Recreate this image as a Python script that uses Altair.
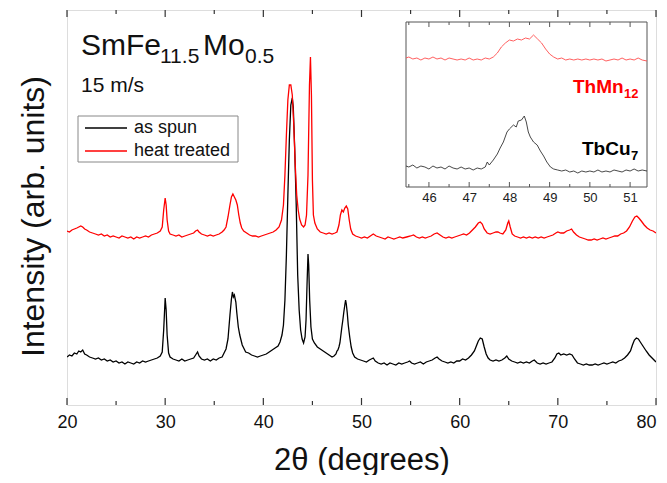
import altair as alt
import pandas as pd

# ---------------- data ----------------
series_names = ["as spun", "heat treated"]
series_colors = ["#000000", "#ff0000"]

as_spun_x = [20.0, 20.25, 20.5, 20.75, 21.0, 21.2, 21.4, 21.6, 21.8, 22.0, 22.3, 22.6, 22.9, 23.2, 23.5, 23.8,
             24.1, 24.4, 24.7, 25.0, 25.3, 25.6, 25.9, 26.2, 26.5, 26.8, 27.1, 27.4, 27.7, 28.0, 28.3, 28.6,
             28.9, 29.2, 29.5, 29.7, 29.85, 30.0, 30.1, 30.2, 30.35, 30.5, 30.8, 31.1, 31.4, 31.7, 32.0, 32.3,
             32.6, 32.9, 33.1, 33.3, 33.45, 33.7, 34.0, 34.3, 34.6, 34.9, 35.2, 35.5, 35.8, 36.0, 36.2, 36.4,
             36.6, 36.75, 36.85, 36.95, 37.05, 37.2, 37.3, 37.45, 37.6, 37.7, 37.85, 38.0, 38.2, 38.5, 38.8,
             39.1, 39.4, 39.7, 40.0, 40.3, 40.6, 40.9, 41.2, 41.5, 41.7, 41.9, 42.05, 42.2, 42.35, 42.5, 42.65,
             42.8, 42.95, 43.05, 43.2, 43.35, 43.5, 43.65, 43.8, 43.95, 44.1, 44.25, 44.35, 44.45, 44.55, 44.62,
             44.72, 44.85, 45.0, 45.2, 45.5, 45.8, 46.1, 46.4, 46.7, 47.0, 47.2, 47.4, 47.5, 47.6, 47.7, 47.8,
             47.9, 48.0, 48.1, 48.2, 48.3, 48.38, 48.45, 48.55, 48.65, 48.8, 48.95, 49.1, 49.3, 49.6, 49.9,
             50.2, 50.5, 50.8, 51.0, 51.2, 51.4, 51.7, 52.0, 52.3, 52.6, 52.9, 53.2, 53.5, 53.8, 54.1, 54.4,
             54.7, 54.9, 55.1, 55.4, 55.7, 56.0, 56.3, 56.6, 56.9, 57.2, 57.5, 57.7, 57.9, 58.2, 58.5, 58.8,
             59.1, 59.4, 59.7, 60.0, 60.3, 60.6, 60.9, 61.2, 61.5, 61.7, 61.9, 62.1, 62.3, 62.5, 62.7, 62.9,
             63.1, 63.4, 63.7, 64.0, 64.3, 64.6, 64.8, 65.0, 65.3, 65.6, 65.9, 66.2, 66.5, 66.8, 67.1, 67.4,
             67.6, 67.9, 68.2, 68.5, 68.8, 69.1, 69.4, 69.7, 69.9, 70.1, 70.3, 70.6, 70.9, 71.2, 71.45, 71.7,
             72.0, 72.3, 72.6, 72.9, 73.2, 73.5, 73.8, 74.1, 74.4, 74.7, 75.0, 75.3, 75.6, 75.9, 76.2, 76.5,
             76.8, 77.1, 77.4, 77.6, 77.8, 78.0, 78.2, 78.4, 78.6, 78.8, 79.0, 79.3, 79.6, 80.0]
as_spun_y = [48, 50, 49, 52, 51, 54, 53, 55, 51, 50, 48, 47, 46, 47, 45, 46,
             44, 45, 43, 44, 42, 43, 41, 43, 42, 41, 43, 42, 44, 43, 44, 45,
             46, 47, 49, 53, 75, 107, 95, 70, 52, 48, 46, 45, 44, 46, 44, 45,
             46, 47, 50, 53, 49, 46, 45, 46, 44, 46, 45, 47, 48, 52, 56, 66,
             90, 106, 113, 108, 110, 103, 92, 78, 70, 66, 60, 57, 53, 52, 50,
             49, 48, 49, 50, 51, 53, 55, 57, 59, 63, 70, 80, 105, 150, 210, 265,
             300, 307, 298, 255, 200, 130, 95, 75, 66, 62, 68, 85, 120, 151, 140,
             105, 78, 66, 62, 58, 56, 54, 52, 50, 48, 49, 51, 54, 55, 58, 62,
             70, 78, 85, 93, 100, 105, 101, 92, 80, 68, 58, 52, 48, 46, 45,
             44, 43, 45, 46, 47, 44, 42, 41, 42, 40, 42, 41, 40, 42, 41, 42,
             43, 44, 42, 41, 42, 43, 41, 43, 44, 45, 47, 48, 46, 44, 43, 42,
             43, 42, 44, 44, 46, 45, 47, 50, 54, 59, 64, 67, 66, 58, 51, 47,
             45, 44, 45, 44, 45, 47, 49, 46, 44, 43, 42, 43, 42, 43, 42, 44,
             45, 42, 41, 42, 41, 42, 43, 47, 51, 52, 50, 51, 50, 51, 50, 46,
             42, 41, 40, 41, 40, 40, 41, 40, 41, 42, 41, 42, 43, 42, 44, 45,
             47, 50, 54, 60, 65, 67, 66, 63, 60, 57, 54, 50, 47, 43]

heat_x = [20.0, 20.25, 20.5, 20.75, 21.0, 21.2, 21.4, 21.6, 21.8, 22.0, 22.3, 22.6, 22.9, 23.2, 23.5, 23.8,
          24.1, 24.4, 24.7, 25.0, 25.3, 25.6, 25.9, 26.2, 26.5, 26.8, 27.1, 27.4, 27.7, 28.0, 28.3, 28.6,
          28.9, 29.2, 29.5, 29.7, 29.85, 30.0, 30.1, 30.2, 30.35, 30.5, 30.8, 31.1, 31.4, 31.7, 32.0, 32.3,
          32.6, 32.9, 33.1, 33.3, 33.45, 33.7, 34.0, 34.3, 34.6, 34.9, 35.2, 35.5, 35.8, 36.0, 36.2, 36.4,
          36.6, 36.75, 36.9, 37.05, 37.2, 37.35, 37.5, 37.65, 37.8, 38.0, 38.3, 38.6, 38.9, 39.2, 39.5,
          39.8, 40.1, 40.4, 40.7, 41.0, 41.3, 41.6, 41.85, 42.05, 42.2, 42.35, 42.5, 42.65, 42.8, 42.95,
          43.1, 43.25, 43.4, 43.55, 43.7, 43.9, 44.1, 44.25, 44.4, 44.55, 44.7, 44.8, 44.9, 45.0, 45.1,
          45.25, 45.5, 45.8, 46.1, 46.4, 46.7, 47.0, 47.3, 47.5, 47.7, 47.85, 48.0, 48.15, 48.3, 48.45,
          48.6, 48.75, 48.9, 49.1, 49.4, 49.7, 50.0, 50.3, 50.6, 50.9, 51.2, 51.5, 51.8, 52.1, 52.4, 52.7,
          53.0, 53.3, 53.6, 53.9, 54.2, 54.6, 55.0, 55.3, 55.6, 55.9, 56.2, 56.5, 56.8, 57.1, 57.4, 57.7,
          58.0, 58.3, 58.6, 58.9, 59.2, 59.5, 59.8, 60.1, 60.4, 60.7, 61.0, 61.3, 61.6, 61.9, 62.1, 62.3,
          62.5, 62.8, 63.1, 63.4, 63.7, 63.9, 64.1, 64.4, 64.7, 64.9, 65.0, 65.15, 65.35, 65.6, 65.9, 66.2,
          66.5, 66.8, 67.1, 67.4, 67.7, 68.0, 68.3, 68.6, 68.9, 69.2, 69.5, 69.8, 70.0, 70.3, 70.6, 70.9,
          71.2, 71.4, 71.6, 71.9, 72.2, 72.5, 72.8, 73.1, 73.4, 73.7, 74.0, 74.3, 74.6, 74.9, 75.2, 75.5,
          75.8, 76.1, 76.4, 76.7, 77.0, 77.3, 77.6, 77.85, 78.05, 78.25, 78.5, 78.8, 79.1, 79.4, 79.7, 80.0]
heat_y = [174, 173, 175, 176, 177, 178, 179, 178, 176, 175, 173, 172, 171, 170, 171, 169,
          170, 168, 169, 168, 167, 169, 168, 167, 168, 166, 168, 167, 168, 169, 168, 170,
          171, 172, 174, 178, 195, 207, 200, 185, 174, 171, 170, 169, 170, 168, 169, 170,
          171, 172, 174, 175, 173, 171, 170, 169, 170, 169, 170, 171, 173, 175, 178, 188,
          200, 208, 211, 208, 205, 200, 190, 182, 177, 174, 172, 170, 169, 169, 168,
          169, 170, 171, 172, 173, 175, 178, 185, 200, 230, 270, 305, 320, 320, 310,
          280, 240, 210, 195, 186, 180, 178, 180, 190, 230, 320, 348, 310, 225, 190,
          182, 176, 173, 172, 171, 172, 171, 172, 173, 180, 190, 195, 193, 197, 199,
          196, 185, 176, 171, 169, 168, 167, 168, 167, 169, 171, 169, 168, 167, 166, 168,
          167, 166, 167, 168, 167, 168, 169, 170, 168, 167, 168, 167, 168, 169, 171, 172,
          170, 168, 167, 168, 167, 168, 169, 170, 171, 170, 172, 175, 178, 182, 183, 181,
          176, 172, 171, 172, 173, 173, 172, 171, 175, 182, 184, 178, 171, 169, 168, 167,
          168, 167, 168, 167, 168, 167, 168, 167, 168, 169, 170, 172, 173, 172, 172, 174,
          175, 176, 173, 170, 168, 167, 166, 165, 165, 166, 165, 166, 167, 166, 167, 168,
          169, 169, 171, 172, 174, 178, 184, 188, 189, 187, 184, 180, 177, 175, 174, 172]

# inset (zoom 45.4 - 51.4 degrees)
inset_x = [45.43, 45.5, 45.6, 45.7, 45.8, 45.9, 46.0, 46.1, 46.2, 46.3, 46.4, 46.5, 46.6, 46.7, 46.8, 46.9,
           47.0, 47.1, 47.2, 47.3, 47.4, 47.5, 47.6, 47.7, 47.8, 47.9, 48.0, 48.1, 48.2, 48.3, 48.4, 48.5,
           48.6, 48.7, 48.8, 48.9, 49.0, 49.1, 49.2, 49.3, 49.4, 49.5, 49.6, 49.7, 49.8, 49.9, 50.0, 50.1,
           50.2, 50.3, 50.4, 50.5, 50.6, 50.7, 50.8, 50.9, 51.0, 51.1, 51.2, 51.3, 51.42]
inset_red_y = [129, 130, 128, 129, 127, 129, 128, 130, 128, 129, 127, 129, 128, 127, 128, 127,
               129, 127, 128, 127, 129, 128, 130, 134, 140, 144, 147, 146, 148, 147, 149, 148,
               152, 148, 144, 138, 133, 130, 128, 129, 127, 128, 127, 128, 127, 128, 127, 128,
               127, 128, 126, 127, 128, 127, 129, 127, 128, 127, 129, 127, 126]
inset_black_x = [45.43, 45.5, 45.6, 45.7, 45.8, 45.9, 46.0, 46.1, 46.2, 46.3, 46.4, 46.5, 46.6, 46.7, 46.8,
                 46.9, 47.0, 47.1, 47.2, 47.3, 47.4, 47.45, 47.5, 47.6, 47.7, 47.77, 47.85, 47.94, 48.0,
                 48.1, 48.17, 48.22, 48.3, 48.37, 48.42, 48.47, 48.52, 48.6, 48.69, 48.77, 48.85, 48.93,
                 49.02, 49.1, 49.2, 49.3, 49.4, 49.5, 49.6, 49.7, 49.8, 49.9, 50.0, 50.1, 50.2, 50.3, 50.4,
                 50.5, 50.6, 50.7, 50.8, 50.9, 51.0, 51.1, 51.2, 51.3, 51.42]
inset_black_y = [21, 20, 22, 19, 21, 20, 18, 21, 19, 20, 18, 21, 19, 18, 20,
                 18, 19, 17, 19, 18, 20, 25, 22, 27, 33, 39, 45, 55, 58,
                 62, 60, 66, 67, 71, 65, 55, 50, 45, 42, 36, 31, 25,
                 20, 18, 17, 16, 17, 15, 16, 14, 16, 15, 16, 15, 17, 15, 16,
                 15, 17, 16, 15, 17, 16, 18, 16, 17, 16]

x_domain = [20, 80]
y_domain = [0, 395]
x_major = [20, 30, 40, 50, 60, 70, 80]
x_minor = [25, 35, 45, 55, 65, 75]
inset_x_domain = [45.43, 51.42]
inset_y_domain = [0, 165]
inset_major = [46, 47, 48, 49, 50, 51]
inset_minor = [45.5, 46.5, 47.5, 48.5, 49.5, 50.5]

FONT = "Liberation Sans"
W, H = 589, 395

# ---------------- tables ----------------
main_df = pd.concat([
    pd.DataFrame({"x": as_spun_x, "y": as_spun_y, "s": series_names[0]}),
    pd.DataFrame({"x": heat_x, "y": heat_y, "s": series_names[1]}),
])

xs = alt.Scale(domain=x_domain, nice=False, zero=False)
ys = alt.Scale(domain=y_domain, nice=False, zero=False)

lines = alt.Chart(main_df).mark_line(strokeWidth=1.3, clip=True).encode(
    x=alt.X("x:Q", scale=xs, axis=alt.Axis(
        values=x_major, tickSize=0, domain=False, grid=False, labelFontSize=18, labelFont=FONT,
        labelColor="#111", labelPadding=8, labelFlush=False, format="d",
        labelAlign=alt.ExprRef(expr="datum.value >= 80 ? 'right' : 'center'"),
        title="2θ (degrees)", titleFont=FONT, titleFontSize=31, titleFontWeight="normal",
        titleColor="#111", titleY=55, titleBaseline="middle")),
    y=alt.Y("y:Q", scale=ys, axis=alt.Axis(
        labels=False, ticks=False, domain=False, grid=False,
        title="Intensity (arb. units)", titleFont=FONT, titleFontSize=32, titleFontWeight="normal",
        titleColor="#111", titleX=-34, titleY=206, titleAngle=270, titleBaseline="middle",
        titleAlign="center")),
    color=alt.Color("s:N", scale=alt.Scale(domain=series_names, range=series_colors), legend=None),
    detail="s:N",
)

def tick_layer(vals, y0, y1, xscale):
    return alt.Chart(pd.DataFrame({"x": vals})).mark_rule(color="#333", strokeWidth=1.2).encode(
        x=alt.X("x:Q", scale=xscale), y=alt.datum(y0), y2=alt.datum(y1))

main_ticks = [
    tick_layer(x_major, 0, 7, xs), tick_layer(x_minor, 0, 4, xs),
    tick_layer(x_major, 395, 388, xs), tick_layer(x_minor, 395, 391, xs),
]

one = pd.DataFrame({"a": [0]})

def txt(t, x, y, size, color="#111", weight="normal", baseline="alphabetic", align="left"):
    return alt.Chart(one).mark_text(
        text=t, font=FONT, fontSize=size, color=color, fontWeight=weight,
        baseline=baseline, align=align).encode(x=alt.value(x), y=alt.value(y))

title_texts = [
    txt("SmFe", 14, 45, 30), txt("11.5", 93, 53, 21),
    txt("Mo", 136, 45, 30), txt("0.5", 178, 53, 21),
    txt("15 m/s", 14, 82, 21),
]

legend_box = alt.Chart(one).mark_rect(fill="white", stroke="#888", strokeWidth=1).encode(
    x=alt.value(11), x2=alt.value(171), y=alt.value(106), y2=alt.value(152))
legend_lines = [
    alt.Chart(one).mark_rule(color=series_colors[i], strokeWidth=1.3).encode(
        x=alt.value(18), x2=alt.value(60), y=alt.value(yy), y2=alt.value(yy))
    for i, yy in enumerate([118, 141])
]
legend_texts = [txt(series_names[0], 67, 118, 18, baseline="middle"),
                txt(series_names[1], 67, 141, 18, baseline="middle")]

main = alt.layer(lines, *main_ticks, *title_texts, legend_box, *legend_lines, *legend_texts)

# ---------------- inset ----------------
ixs = alt.Scale(domain=inset_x_domain, range=[339, 580], nice=False, zero=False)
iys = alt.Scale(domain=inset_y_domain, range=[177, 12], nice=False, zero=False)

frame = alt.Chart(pd.DataFrame({"x0": [inset_x_domain[0]], "x1": [inset_x_domain[1]],
                                "y0": [inset_y_domain[0]], "y1": [inset_y_domain[1]]})).mark_rect(
    fill="white", stroke="#555", strokeWidth=1).encode(
    x=alt.X("x0:Q", scale=ixs, axis=alt.Axis(
        orient="bottom", offset=-218, values=inset_major, tickSize=0, domain=False, grid=False,
        labelFontSize=13, labelFont=FONT, labelColor="#222", labelPadding=4, title=None, format="d")),
    x2="x1:Q",
    y=alt.Y("y0:Q", scale=iys, axis=None),
    y2="y1:Q",
)

inset_red = alt.Chart(pd.DataFrame({"x": inset_x, "y": inset_red_y})).mark_line(
    color="#ff4d4d", strokeWidth=0.9).encode(x=alt.X("x:Q", scale=ixs), y=alt.Y("y:Q", scale=iys))
inset_black = alt.Chart(pd.DataFrame({"x": inset_black_x, "y": inset_black_y})).mark_line(
    color="#333333", strokeWidth=0.9).encode(x=alt.X("x:Q", scale=ixs), y=alt.Y("y:Q", scale=iys))

def itick(vals, y0, y1):
    return alt.Chart(pd.DataFrame({"x": vals})).mark_rule(color="#555", strokeWidth=1).encode(
        x=alt.X("x:Q", scale=ixs), y=alt.datum(y0), y2=alt.datum(y1))

inset_ticks = [itick(inset_major, 0, 5), itick(inset_minor, 0, 3),
               itick(inset_major, 165, 160), itick(inset_minor, 165, 162)]

inset_texts = [
    txt("ThMn", 506, 83, 19, color="#ff0000", weight="bold"),
    txt("12", 557, 88, 13, color="#ff0000", weight="bold"),
    txt("TbCu", 515, 145, 19, color="#000000", weight="bold"),
    txt("7", 564, 150, 13, color="#000000", weight="bold"),
]

inset = alt.layer(frame, inset_red, inset_black, *inset_ticks, *inset_texts)

chart = alt.layer(main, inset).resolve_scale(x="independent", y="independent").properties(
    width=W, height=H,
    autosize=alt.AutoSizeParams(type="none"),
    padding={"left": 59, "top": 2, "right": 3, "bottom": 70},
).configure_view(stroke="#333", strokeWidth=1.5).configure(background="white")

chart.save("out.html", embed_options={"renderer": "svg", "actions": False})
